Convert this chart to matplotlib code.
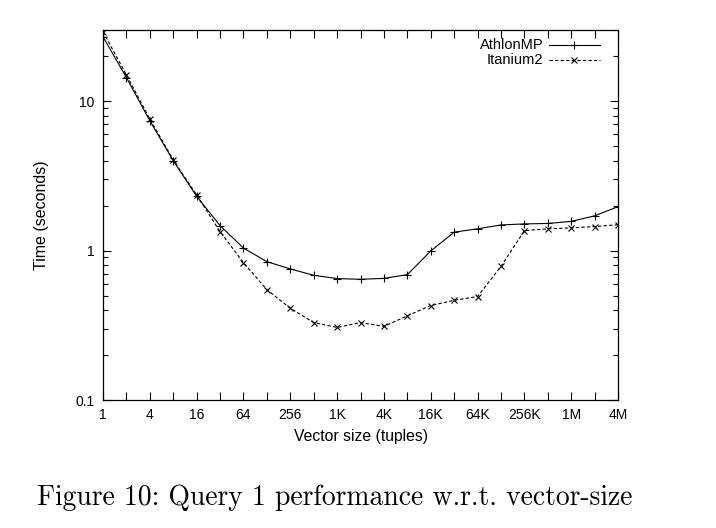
import matplotlib
matplotlib.use("Agg")
import matplotlib.pyplot as plt
from matplotlib.lines import Line2D
from matplotlib.ticker import LogLocator, NullFormatter

# vector sizes: 2^0 .. 2^22
vector_sizes = [2 ** k for k in range(23)]
tick_labels = ["1", "", "4", "", "16", "", "64", "", "256", "", "1K", "", "4K", "",
               "16K", "", "64K", "", "256K", "", "1M", "", "4M"]

athlon_mp = [27.0, 14.4, 7.4, 4.0, 2.31, 1.47, 1.04, 0.844, 0.754, 0.684, 0.650, 0.643,
             0.652, 0.691, 0.995, 1.33, 1.40, 1.486, 1.51, 1.52, 1.57, 1.71, 1.97]
itanium2 = [29.2, 15.0, 7.6, 4.05, 2.35, 1.34, 0.83, 0.548, 0.411, 0.330, 0.306, 0.330,
            0.311, 0.366, 0.429, 0.465, 0.493, 0.785, 1.36, 1.40, 1.42, 1.45, 1.49]

plt.rcParams["font.family"] = ["Liberation Sans", "DejaVu Sans"]

fig = plt.figure(figsize=(7.16, 5.28), dpi=100)
ax = fig.add_axes([0.1439, 0.2424, 0.7193, 0.7008])

ax.plot(vector_sizes, athlon_mp, color="black", lw=0.8, marker="+", ms=6, mew=0.8)
ax.plot(vector_sizes, itanium2, color="black", lw=0.8, ls=(0, (3, 2)), marker="x",
        ms=5, mew=0.8)

ax.set_xscale("log", base=2)
ax.set_yscale("log")
ax.set_xlim(1, 2 ** 22)
ax.set_ylim(0.1, 30)

ax.set_xticks(vector_sizes)
ax.set_xticklabels(tick_labels)
ax.xaxis.set_minor_locator(matplotlib.ticker.NullLocator())
ax.set_yticks([0.1, 1, 10])
ax.set_yticklabels(["0.1", "1", "10"])
ax.yaxis.set_minor_locator(LogLocator(base=10, subs=range(2, 10)))
ax.yaxis.set_minor_formatter(NullFormatter())

ax.tick_params(which="both", direction="in", top=True, right=True, labelsize=10,
               width=0.8, pad=6)
ax.tick_params(which="major", length=6)
ax.tick_params(which="minor", length=3.5)
for s in ax.spines.values():
    s.set_linewidth(0.9)

ax.set_xlabel("Vector size (tuples)", fontsize=11.3, labelpad=5)
ax.set_ylabel("Time (seconds)", fontsize=11.5, labelpad=19)

# gnuplot-style key: right-aligned labels, sample line on the right
for yk, label, ls, mk, ms in [(0.959, "AthlonMP", "-", "+", 6),
                               (0.919, "Itanium2", (0, (3, 2)), "x", 5)]:
    ax.text(0.855, yk, label, transform=ax.transAxes, ha="right", va="center",
            fontsize=10.5)
    ax.add_line(Line2D([0.865, 0.965], [yk, yk], transform=ax.transAxes,
                       color="black", lw=0.8, ls=ls))
    ax.add_line(Line2D([0.915], [yk], transform=ax.transAxes, color="black",
                       marker=mk, ms=ms, mew=0.8))

fig.text(0.468, 0.058, "Figure 10: Query 1 performance w.r.t. vector-size",
         ha="center", va="center", fontsize=19.9, family="cmr10")

fig.savefig("out.png", dpi=100)
